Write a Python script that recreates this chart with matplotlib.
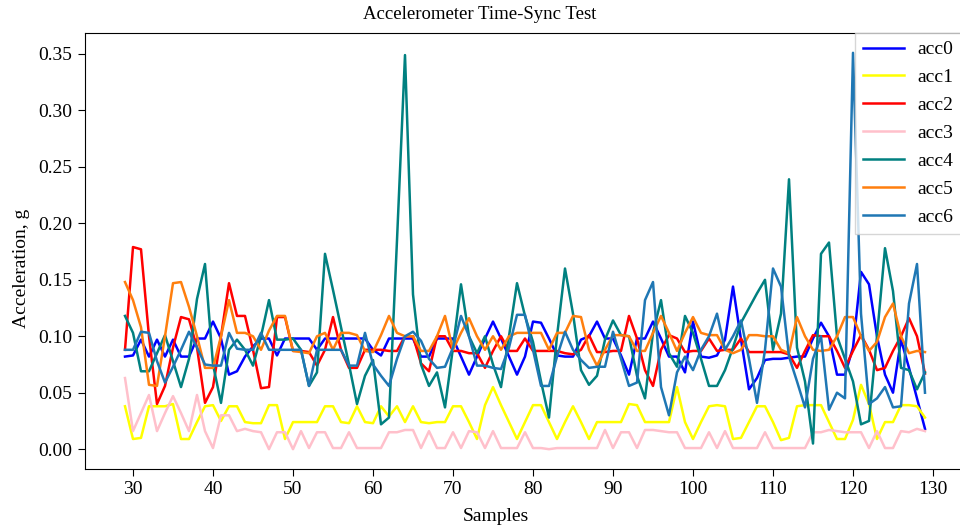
import numpy as np
import matplotlib
matplotlib.use("Agg")
import matplotlib.pyplot as plt

plt.rcParams["font.family"] = ["Liberation Serif", "DejaVu Serif"]

samples = list(range(29, 130))

acc0 = [0.082, 0.083, 0.097, 0.082, 0.097, 0.082, 0.097, 0.082, 0.082, 0.098, 0.098, 0.113, 0.098, 0.066, 0.069, 0.082, 0.091,
        0.098, 0.098, 0.083, 0.098, 0.098, 0.098, 0.098, 0.088, 0.098, 0.098, 0.098, 0.098, 0.098, 0.098, 0.088, 0.083,
        0.098, 0.098, 0.098, 0.098, 0.082, 0.082, 0.098, 0.098, 0.098, 0.082, 0.066, 0.082, 0.098, 0.113, 0.098, 0.082, 0.066,
        0.082, 0.113, 0.112, 0.098, 0.083, 0.082, 0.082, 0.097, 0.100, 0.113, 0.098, 0.098, 0.083, 0.066, 0.098, 0.098, 0.113,
        0.098, 0.082, 0.082, 0.068, 0.113, 0.082, 0.081, 0.083, 0.097, 0.144, 0.097, 0.053, 0.063, 0.079, 0.080, 0.080, 0.081,
        0.082, 0.082, 0.098, 0.112, 0.100, 0.066, 0.066, 0.090, 0.157, 0.146, 0.100, 0.066, 0.050, 0.097, 0.072, 0.045, 0.018]

acc1 = [0.038, 0.009, 0.010, 0.038, 0.038, 0.038, 0.040, 0.009, 0.009, 0.024, 0.038, 0.039, 0.025, 0.038, 0.038, 0.024, 0.023,
        0.023, 0.039, 0.039, 0.009, 0.024, 0.024, 0.024, 0.024, 0.038, 0.038, 0.024, 0.023, 0.038, 0.024, 0.023, 0.038,
        0.029, 0.038, 0.024, 0.038, 0.024, 0.023, 0.024, 0.024, 0.038, 0.038, 0.024, 0.009, 0.039, 0.055, 0.039, 0.024, 0.009,
        0.024, 0.039, 0.039, 0.024, 0.009, 0.024, 0.038, 0.024, 0.009, 0.024, 0.024, 0.024, 0.024, 0.040, 0.039, 0.024, 0.024,
        0.024, 0.024, 0.055, 0.024, 0.009, 0.024, 0.038, 0.039, 0.038, 0.009, 0.010, 0.024, 0.038, 0.038, 0.024, 0.008, 0.010,
        0.038, 0.039, 0.039, 0.039, 0.024, 0.009, 0.009, 0.026, 0.057, 0.040, 0.009, 0.024, 0.024, 0.039, 0.039, 0.038, 0.028]

acc2 = [0.088, 0.179, 0.177, 0.100, 0.040, 0.056, 0.090, 0.117, 0.115, 0.090, 0.041, 0.055, 0.100, 0.147, 0.118, 0.118, 0.088,
        0.054, 0.055, 0.117, 0.117, 0.087, 0.087, 0.086, 0.074, 0.088, 0.117, 0.088, 0.072, 0.072, 0.088, 0.088, 0.088,
        0.087, 0.087, 0.100, 0.100, 0.076, 0.069, 0.100, 0.100, 0.087, 0.087, 0.085, 0.085, 0.072, 0.087, 0.100, 0.087, 0.087,
        0.098, 0.087, 0.087, 0.087, 0.087, 0.085, 0.084, 0.088, 0.101, 0.086, 0.086, 0.087, 0.087, 0.118, 0.098, 0.070, 0.056,
        0.088, 0.101, 0.098, 0.086, 0.087, 0.087, 0.098, 0.087, 0.088, 0.088, 0.098, 0.086, 0.086, 0.086, 0.086, 0.086, 0.084,
        0.072, 0.087, 0.101, 0.100, 0.100, 0.087, 0.072, 0.087, 0.101, 0.088, 0.070, 0.072, 0.087, 0.100, 0.116, 0.100, 0.067]

acc3 = [0.063, 0.016, 0.032, 0.048, 0.016, 0.032, 0.047, 0.032, 0.016, 0.048, 0.016, 0.001, 0.030, 0.030, 0.016, 0.018, 0.016,
        0.015, 0.000, 0.015, 0.015, 0.000, 0.016, 0.001, 0.015, 0.015, 0.001, 0.001, 0.015, 0.001, 0.001, 0.001, 0.001,
        0.015, 0.015, 0.017, 0.017, 0.001, 0.016, 0.001, 0.001, 0.015, 0.001, 0.016, 0.015, 0.001, 0.016, 0.001, 0.001, 0.001,
        0.015, 0.001, 0.001, 0.000, 0.001, 0.001, 0.001, 0.001, 0.001, 0.001, 0.017, 0.001, 0.015, 0.015, 0.001, 0.017, 0.017,
        0.016, 0.015, 0.015, 0.001, 0.001, 0.001, 0.015, 0.001, 0.016, 0.001, 0.001, 0.001, 0.001, 0.015, 0.001, 0.001, 0.001,
        0.001, 0.001, 0.015, 0.015, 0.017, 0.016, 0.015, 0.015, 0.015, 0.001, 0.016, 0.001, 0.001, 0.016, 0.015, 0.018, 0.016]

acc4 = [0.118, 0.103, 0.069, 0.069, 0.085, 0.101, 0.078, 0.055, 0.080, 0.133, 0.164, 0.075, 0.041, 0.088, 0.097, 0.088, 0.074,
        0.100, 0.132, 0.097, 0.097, 0.098, 0.088, 0.056, 0.068, 0.173, 0.141, 0.108, 0.075, 0.040, 0.065, 0.079, 0.022,
        0.028, 0.185, 0.349, 0.137, 0.075, 0.056, 0.068, 0.037, 0.090, 0.146, 0.100, 0.085, 0.100, 0.075, 0.055, 0.100, 0.147,
        0.118, 0.095, 0.060, 0.028, 0.100, 0.160, 0.120, 0.070, 0.057, 0.065, 0.097, 0.114, 0.101, 0.100, 0.065, 0.045, 0.103,
        0.132, 0.085, 0.073, 0.118, 0.103, 0.080, 0.056, 0.056, 0.070, 0.090, 0.112, 0.125, 0.138, 0.150, 0.088, 0.120, 0.239,
        0.090, 0.060, 0.005, 0.173, 0.183, 0.100, 0.080, 0.060, 0.022, 0.025, 0.100, 0.178, 0.140, 0.072, 0.070, 0.053, 0.068]

acc5 = [0.148, 0.132, 0.108, 0.057, 0.056, 0.100, 0.147, 0.148, 0.126, 0.100, 0.072, 0.072, 0.100, 0.132, 0.103, 0.103, 0.100,
        0.088, 0.105, 0.118, 0.118, 0.087, 0.086, 0.085, 0.100, 0.103, 0.088, 0.103, 0.103, 0.101, 0.087, 0.086, 0.101,
        0.118, 0.103, 0.100, 0.100, 0.087, 0.087, 0.100, 0.118, 0.088, 0.103, 0.116, 0.100, 0.088, 0.100, 0.088, 0.100, 0.103,
        0.103, 0.103, 0.103, 0.088, 0.103, 0.103, 0.118, 0.117, 0.088, 0.074, 0.088, 0.101, 0.101, 0.100, 0.087, 0.087, 0.103,
        0.118, 0.103, 0.087, 0.103, 0.117, 0.103, 0.101, 0.101, 0.088, 0.085, 0.088, 0.101, 0.101, 0.100, 0.100, 0.088, 0.085,
        0.117, 0.100, 0.088, 0.087, 0.088, 0.100, 0.117, 0.117, 0.100, 0.087, 0.095, 0.117, 0.129, 0.100, 0.085, 0.087, 0.086]

acc6 = [0.088, 0.088, 0.104, 0.103, 0.078, 0.059, 0.073, 0.088, 0.104, 0.090, 0.075, 0.074, 0.074, 0.103, 0.089, 0.088, 0.088,
        0.103, 0.088, 0.088, 0.088, 0.088, 0.088, 0.056, 0.088, 0.088, 0.088, 0.088, 0.074, 0.074, 0.103, 0.075, 0.065,
        0.056, 0.080, 0.100, 0.104, 0.096, 0.080, 0.072, 0.073, 0.090, 0.118, 0.100, 0.074, 0.074, 0.072, 0.071, 0.090, 0.119,
        0.119, 0.088, 0.056, 0.056, 0.082, 0.104, 0.088, 0.079, 0.072, 0.073, 0.073, 0.104, 0.080, 0.056, 0.059, 0.132, 0.148,
        0.055, 0.030, 0.068, 0.082, 0.070, 0.088, 0.100, 0.120, 0.088, 0.100, 0.114, 0.080, 0.041, 0.088, 0.160, 0.144, 0.082,
        0.060, 0.037, 0.080, 0.100, 0.035, 0.050, 0.045, 0.351, 0.120, 0.040, 0.045, 0.055, 0.037, 0.038, 0.129, 0.164, 0.050]

series = [acc0, acc1, acc2, acc3, acc4, acc5, acc6]
labels = ["acc0", "acc1", "acc2", "acc3", "acc4", "acc5", "acc6"]
colors = ["blue", "yellow", "red", "pink", "teal", "#ff7f0e", "#1f77b4"]

fig = plt.figure(figsize=(9.6, 5.29), dpi=100)
# axes run past the right edge, like the cropped original
ax = fig.add_axes([85 / 960, 60 / 529, 880 / 960, 436 / 529])

for vals, lab, col in zip(series, labels, colors):
    ax.plot(samples, vals, color=col, lw=1.8, label=lab)

ax.set_xticks(range(30, 131, 10))
ax.set_yticks(np.arange(0, 0.36, 0.05))
ax.tick_params(labelsize=14, length=5, pad=4)
ax.set_xlabel("Samples", fontsize=14)
ax.set_ylabel("Acceleration, g", fontsize=14)
# labels/title are centred on the uncropped figure, not on the visible axes
ax.xaxis.set_label_coords((496 - 85) / 880, -0.089)
ax.yaxis.set_label_coords(-0.062, 0.461)
ax.set_title("Accelerometer Time-Sync Test", fontsize=13.5, x=(480 - 85) / 880, pad=10)

ax.legend(loc="upper left", bbox_to_anchor=(855 / 960, 1 - 33 / 529),
          bbox_transform=fig.transFigure, borderaxespad=0, fontsize=14,
          handlelength=2.1, handletextpad=0.7, labelspacing=0.53, fancybox=False)

fig.savefig("out.png", dpi=100)
